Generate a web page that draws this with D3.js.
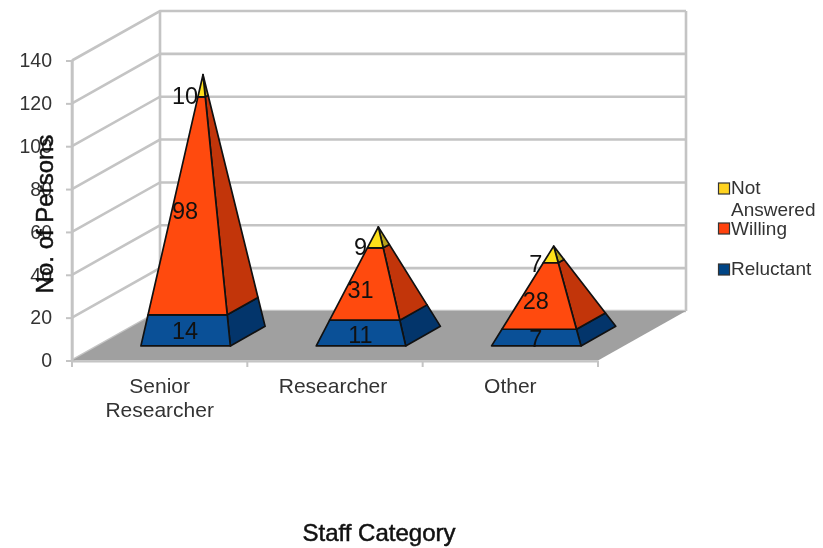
<!DOCTYPE html>
<html><head><meta charset="utf-8">
<script src="https://cdn.jsdelivr.net/npm/d3@7"></script>
<style>html,body{margin:0;padding:0;background:#fff}svg{display:block;filter:blur(0.55px)}text{font-family:"Liberation Sans",Arial,sans-serif}</style>
</head><body><svg id="c" width="823" height="548"></svg>
<script>
const categories = ["Senior Researcher","Researcher","Other"];
const categoryLines = [["Senior","Researcher"],["Researcher"],["Other"]];
const reluctant = [14,11,7];
const willing = [98,31,28];
const notAnswered = [10,9,7];
const valueTicks = [0,20,40,60,80,100,120,140];
const seriesNames = ["Reluctant","Willing","Not Answered"];
const frontColors = ["#0a5097","#ff4a0e","#ffe01a"];
const sideColors = ["#03356b","#c2350a","#b8a21a"];
const legendColors = ["#004586","#ff420e","#ffd320"];

const svg = d3.select("#c");
const x = d3.scaleBand().domain(categories).range([72,598]).paddingInner(0.49).paddingOuter(0.245);
const y = d3.scaleLinear().domain([0,140]).range([360.5,60.5]);
const depthX = d3.scaleLinear().domain([0,1]).range([0,88]);
const depthY = d3.scaleLinear().domain([0,1]).range([0,-49.5]);
const grid = "#c4c4c4";
const D0 = 0.295, D1 = 0.69;

// Walls
const g = svg.append("g").attr("fill","none").attr("stroke",grid).attr("stroke-width",2.6);
valueTicks.forEach(v=>{
  g.append("path").attr("d",d3.line()([[72,y(v)],[72+depthX(1),y(v)+depthY(1)],[598+depthX(1),y(v)+depthY(1)]]));
});
g.append("line").attr("x1",72).attr("x2",72).attr("y1",y(0)).attr("y2",y(140));
g.append("line").attr("x1",72+depthX(1)).attr("x2",72+depthX(1)).attr("y1",y(0)+depthY(1)).attr("y2",y(140)+depthY(1));
g.append("line").attr("x1",598+depthX(1)).attr("x2",598+depthX(1)).attr("y1",y(0)+depthY(1)).attr("y2",y(140)+depthY(1));

// Floor
svg.append("path").attr("fill","#a0a0a0")
  .attr("d",d3.line()([[72,y(0)],[598,y(0)],[598+depthX(1),y(0)+depthY(1)],[72+depthX(1),y(0)+depthY(1)]])+"Z");

// Axes
const ax = svg.append("g").attr("transform","translate(72,0)")
  .call(d3.axisLeft(y).tickValues(valueTicks).tickSize(6).tickPadding(14));
const ab = svg.append("g").attr("transform","translate(0,361)")
  .call(d3.axisBottom(x).tickSize(0).tickFormat(()=>""));
[ax,ab].forEach(a=>{a.selectAll("path.domain").attr("stroke",grid).attr("stroke-width",2.2);
  a.selectAll("line").attr("stroke",grid).attr("stroke-width",2);});
ax.selectAll("text").attr("font-size",19.5).attr("fill","#333");
const step = x.step();
[0,1,2,3].forEach(i=>{
  svg.append("line").attr("x1",72+i*step).attr("x2",72+i*step).attr("y1",361).attr("y2",367)
    .attr("stroke",grid).attr("stroke-width",2);
});
categories.forEach((c,i)=>{
  const t = svg.append("text").attr("text-anchor","middle").attr("font-size",21).attr("fill","#333");
  categoryLines[i].forEach((l,k)=>t.append("tspan").attr("x",x(c)+x.bandwidth()/2-(i===1?2:0)).attr("y",393+k*24).text(l));
});

// Pyramids
const line = d3.line();
const lerp = (a,b,t)=>[a[0]+(b[0]-a[0])*t,a[1]+(b[1]-a[1])*t];
const series = [reluctant,willing,notAnswered];
categories.forEach((c,i)=>{
  const total = reluctant[i]+willing[i]+notAnswered[i];
  const ox = x(c), w = x.bandwidth();
  const fl = [ox+depthX(D0), y(0)+depthY(D0)];
  const fr = [ox+w+depthX(D0), y(0)+depthY(D0)];
  const br = [ox+w+depthX(D1), y(0)+depthY(D1)];
  const cx = ox+w/2+depthX((D0+D1)/2);
  const cy = y(0)+depthY((D0+D1)/2);
  const apex = [cx, cy-(y(0)-y(total))];
  let cum = 0;
  const node = svg.append("g").attr("stroke","#111").attr("stroke-width",1.7).attr("stroke-linejoin","round");
  series.forEach((s,k)=>{
    const f0 = cum/total, f1 = (cum+s[i])/total;
    const q = (p,f)=>lerp(p,apex,f);
    node.append("path").attr("fill",sideColors[k]).attr("d",line([q(fr,f0),q(br,f0),q(br,f1),q(fr,f1)])+"Z");
    node.append("path").attr("fill",frontColors[k]).attr("d",line([q(fl,f0),q(fr,f0),q(fr,f1),q(fl,f1)])+"Z");
    cum += s[i];
  });
  cum = 0;
  series.forEach((s)=>{
    const yy = y(0)+depthY(D0)-(y(0)-y(cum+s[i]/2));
    svg.append("text").attr("x",ox+w/2+depthX(D0)-0.5).attr("y",yy+8.5).attr("text-anchor","middle")
      .attr("font-size",23.5).attr("fill","#111").text(s[i]);
    cum += s[i];
  });
});

// Titles
svg.append("text").attr("transform","translate(53,214) rotate(-90)").attr("text-anchor","middle")
  .attr("font-size",24).attr("fill","#111").attr("stroke","#111").attr("stroke-width",0.5).text("No. of Persons");
svg.append("text").attr("x",379).attr("y",541).attr("text-anchor","middle")
  .attr("font-size",24).attr("fill","#111").attr("stroke","#111").attr("stroke-width",0.5).text("Staff Category");

// Legend
const legendRows = [[2,183,[["Not",194],["Answered",216]]],[1,223,[["Willing",235]]],[0,264,[["Reluctant",275]]]];
legendRows.forEach(([k,sy,lines])=>{
  svg.append("rect").attr("x",718.5).attr("y",sy).attr("width",11).attr("height",11)
    .attr("fill",legendColors[k]).attr("stroke","#333").attr("stroke-width",1.2);
  lines.forEach(([l,ly])=>svg.append("text").attr("x",731).attr("y",ly).attr("font-size",19).attr("fill","#333").text(l));
});
</script></body></html>
